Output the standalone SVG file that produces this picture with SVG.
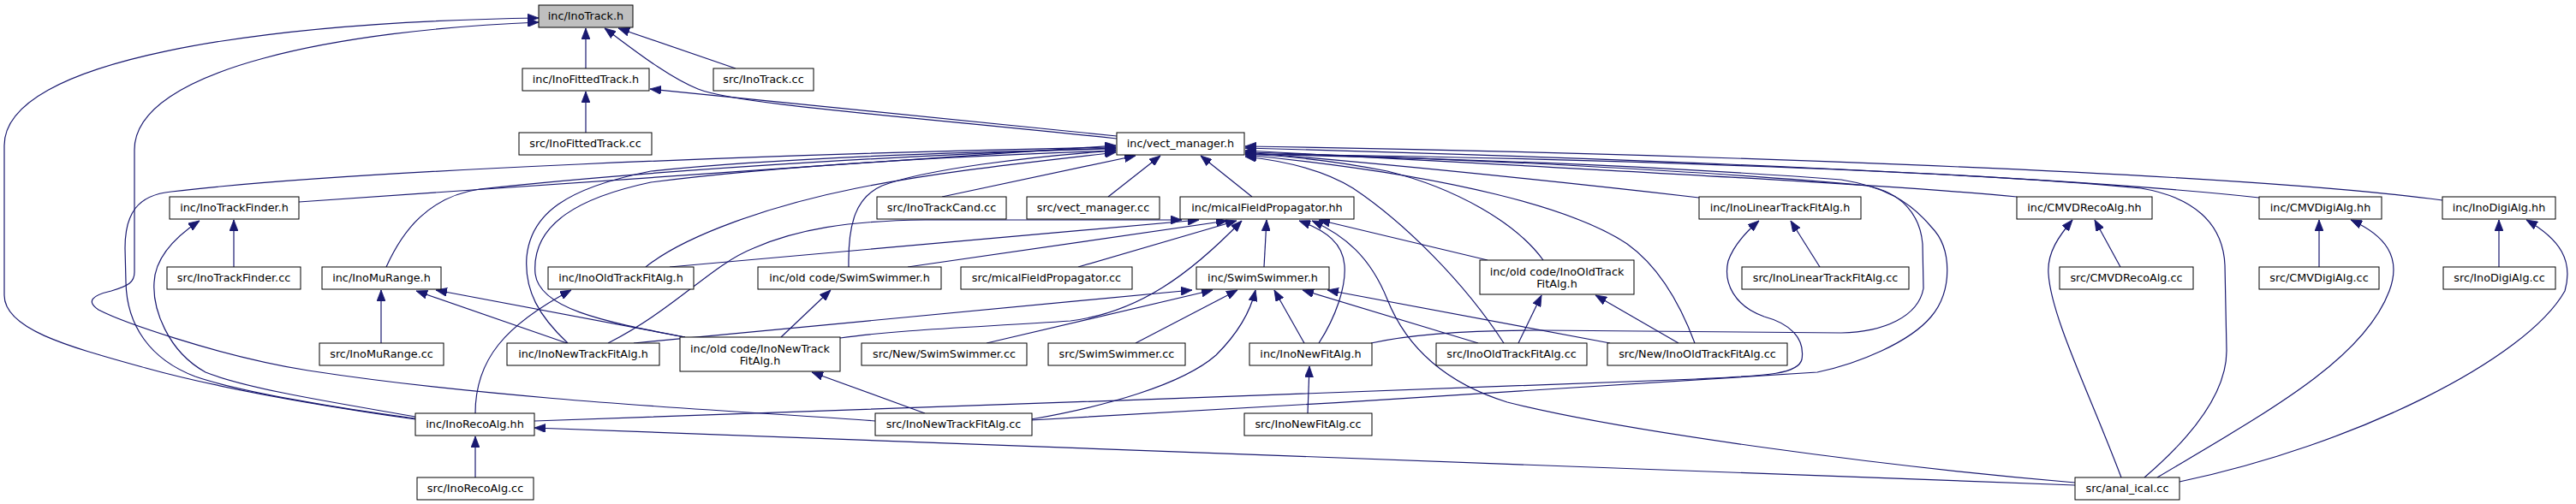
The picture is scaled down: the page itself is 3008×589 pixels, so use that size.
<svg xmlns="http://www.w3.org/2000/svg" width="3008" height="589" viewBox="0 0 3008 589">
<defs>
<style>
.node rect{fill:#ffffff;stroke:#000000;stroke-width:1}
.root rect{fill:#bfbfbf}
.node text{font-family:"DejaVu Sans","Liberation Sans",sans-serif;font-size:12.8px;text-anchor:middle;fill:#000000}
.edges path{fill:none;stroke:#191970;stroke-width:1.2;marker-end:url(#arr)}
</style>
<marker id="arr" viewBox="0 0 13 10" refX="13" refY="5" markerWidth="13" markerHeight="10" markerUnits="userSpaceOnUse" orient="auto">
<path d="M0,0 L13,5 L0,10 z" fill="#191970" stroke="#191970" stroke-width="0.8"/>
</marker>
</defs>
<rect width="3008" height="589" fill="#ffffff"/>
<g id="edges" class="edges">
<path d="M684,80 L684,33"/>
<path d="M859,80 L722,33"/>
<path d="M1304,162 C1050,135 860,122 815,104 C780,90 740,58 706,33"/>
<path d="M485,490 C380,475 260,455 170,430 C80,405 5,385 5,345 L5,170 C5,70 300,26 629,21"/>
<path d="M1022,492 C900,482 600,470 360,433 C250,415 140,375 115,362 C100,352 108,345 130,340 C150,334 157,330 157,318 L157,175 C157,80 400,35 629,26"/>
<path d="M1304,159 L759,104"/>
<path d="M684,155 L684,107"/>
<path d="M349,236 L1303,170"/>
<path d="M485,489 C400,478 280,458 228,440 C175,420 148,380 147,330 L146,290 C146,250 160,228 200,224 C400,200 900,180 1303,172"/>
<path d="M485,487 C400,472 290,455 240,435 C195,410 178,360 180,330 C181,305 200,280 233,258"/>
<path d="M273,312 L273,257"/>
<path d="M451,312 C470,270 500,230 560,221 C800,195 1100,180 1303,173"/>
<path d="M445,401 L445,339"/>
<path d="M754,312 C800,275 900,240 1000,220 C1100,200 1200,190 1303,178"/>
<path d="M782,312 L1400,257"/>
<path d="M555,483 C555,420 590,380 667,339"/>
<path d="M663,401 C630,370 612,340 615,300 C620,250 660,220 760,200 C900,185 1100,178 1303,174"/>
<path d="M800,394 C700,375 630,360 625,320 C620,260 680,230 760,213 C900,195 1100,183 1303,176"/>
<path d="M662,401 L486,340"/>
<path d="M800,394 L509,339"/>
<path d="M710,401 C790,360 830,310 880,290 C930,268 990,258 1080,257 L1380,257"/>
<path d="M740,401 L1392,339"/>
<path d="M912,394 L970,339"/>
<path d="M981,395 C1050,385 1150,382 1250,375 C1330,365 1390,320 1450,258"/>
<path d="M991,312 C990,260 1000,230 1030,217 C1080,198 1200,183 1303,176"/>
<path d="M1060,312 L1433,258"/>
<path d="M1259,312 L1444,258"/>
<path d="M1476,312 L1479,257"/>
<path d="M1540,401 C1560,370 1572,335 1570,310 C1568,285 1550,270 1517,258"/>
<path d="M2423,564 C2200,545 1900,505 1760,470 C1680,445 1640,400 1620,350 C1600,300 1570,275 1532,258"/>
<path d="M1737,304 L1540,257"/>
<path d="M1726,401 L1521,339"/>
<path d="M1880,401 L1550,339"/>
<path d="M1523,401 L1488,339"/>
<path d="M1326,401 L1445,339"/>
<path d="M1152,401 L1416,339"/>
<path d="M1204,490 C1290,475 1380,450 1420,415 C1445,390 1460,365 1466,339"/>
<path d="M1080,483 L948,435"/>
<path d="M1204,491 C1500,475 1900,450 2122,435 C2170,425 2230,400 2255,370 C2280,340 2280,290 2255,265 C2230,235 2200,218 2150,210 C1950,195 1700,185 1454,180"/>
<path d="M1601,401 C1650,390 1720,386 1800,386 L2150,389 C2200,388 2240,370 2246,337 L2245,285 C2242,250 2220,225 2180,217 C2000,200 1700,185 1454,178"/>
<path d="M624,492 C900,480 1600,460 1980,443 C2060,439 2100,438 2104,420 C2108,395 2090,378 2060,370 C2025,358 2012,330 2018,305 C2025,285 2040,270 2054,258"/>
<path d="M2125,312 L2091,258"/>
<path d="M1984,231 C1800,210 1600,190 1454,178"/>
<path d="M2355,230 C2200,215 1800,195 1454,176"/>
<path d="M2638,231 C2400,205 1900,185 1454,173"/>
<path d="M2852,234 C2600,200 1900,178 1454,171"/>
<path d="M2504,558 C2560,510 2600,460 2600,410 L2598,310 C2596,260 2560,230 2500,220 C2300,200 1800,183 1454,180"/>
<path d="M2477,558 C2440,460 2395,370 2392,320 C2390,295 2405,275 2420,257"/>
<path d="M2476,312 L2446,257"/>
<path d="M2519,558 C2650,480 2760,420 2790,340 C2805,300 2785,275 2745,257"/>
<path d="M2708,312 L2708,257"/>
<path d="M2545,563 C2750,520 2950,420 2995,340 C3005,305 2990,280 2950,257"/>
<path d="M2918,312 L2918,257"/>
<path d="M2423,567 L624,500"/>
<path d="M555,558 L555,510"/>
<path d="M1100,230 L1326,182"/>
<path d="M1294,230 L1355,182"/>
<path d="M1462,230 L1402,182"/>
<path d="M1756,401 C1710,330 1640,260 1580,220 C1545,198 1500,188 1454,183"/>
<path d="M1802,304 C1770,260 1700,220 1620,200 C1560,188 1500,182 1454,180"/>
<path d="M1979,401 C1960,350 1935,310 1900,285 C1840,245 1700,205 1454,181"/>
<path d="M1773,401 L1800,345"/>
<path d="M1960,401 L1863,345"/>
<path d="M1527,483 L1529,428"/>
</g>
<g id="n_InoTrack_h" class="node root"><rect x="629" y="6" width="110" height="26"/><text x="684" y="23">inc/InoTrack.h</text></g>
<g id="n_InoFittedTrack_h" class="node"><rect x="610" y="80" width="148" height="26"/><text x="684" y="97">inc/InoFittedTrack.h</text></g>
<g id="n_InoTrack_cc" class="node"><rect x="833" y="80" width="117" height="26"/><text x="891.5" y="97">src/InoTrack.cc</text></g>
<g id="n_InoFittedTrack_cc" class="node"><rect x="606" y="155" width="155" height="26"/><text x="683.5" y="172">src/InoFittedTrack.cc</text></g>
<g id="n_vect_manager_h" class="node"><rect x="1304" y="155" width="149" height="26"/><text x="1378.5" y="172">inc/vect_manager.h</text></g>
<g id="n_InoTrackFinder_h" class="node"><rect x="198" y="230" width="151" height="26"/><text x="273.5" y="247">inc/InoTrackFinder.h</text></g>
<g id="n_InoTrackCand_cc" class="node"><rect x="1024" y="230" width="151" height="26"/><text x="1099.5" y="247">src/InoTrackCand.cc</text></g>
<g id="n_vect_manager_cc" class="node"><rect x="1199" y="230" width="155" height="26"/><text x="1276.5" y="247">src/vect_manager.cc</text></g>
<g id="n_micalFieldPropagator_hh" class="node"><rect x="1378" y="230" width="203" height="26"/><text x="1479.5" y="247">inc/micalFieldPropagator.hh</text></g>
<g id="n_InoLinearTrackFitAlg_h" class="node"><rect x="1984" y="230" width="189" height="26"/><text x="2078.5" y="247">inc/InoLinearTrackFitAlg.h</text></g>
<g id="n_CMVDRecoAlg_hh" class="node"><rect x="2355" y="230" width="158" height="26"/><text x="2434" y="247">inc/CMVDRecoAlg.hh</text></g>
<g id="n_CMVDigiAlg_hh" class="node"><rect x="2638" y="230" width="143" height="26"/><text x="2709.5" y="247">inc/CMVDigiAlg.hh</text></g>
<g id="n_InoDigiAlg_hh" class="node"><rect x="2852" y="230" width="132" height="26"/><text x="2918" y="247">inc/InoDigiAlg.hh</text></g>
<g id="n_InoTrackFinder_cc" class="node"><rect x="195" y="312" width="156" height="26"/><text x="273" y="329">src/InoTrackFinder.cc</text></g>
<g id="n_InoMuRange_h" class="node"><rect x="376" y="312" width="139" height="26"/><text x="445.5" y="329">inc/InoMuRange.h</text></g>
<g id="n_InoOldTrackFitAlg_h" class="node"><rect x="640" y="312" width="170" height="26"/><text x="725" y="329">inc/InoOldTrackFitAlg.h</text></g>
<g id="n_old_SwimSwimmer_h" class="node"><rect x="885" y="312" width="214" height="26"/><text x="992" y="329">inc/old code/SwimSwimmer.h</text></g>
<g id="n_micalFieldPropagator_cc" class="node"><rect x="1122" y="312" width="200" height="26"/><text x="1222" y="329">src/micalFieldPropagator.cc</text></g>
<g id="n_SwimSwimmer_h" class="node"><rect x="1397" y="312" width="155" height="26"/><text x="1474.5" y="329">inc/SwimSwimmer.h</text></g>
<g id="n_old_InoOldTrackFitAlg_h" class="node"><rect x="1728" y="304" width="180" height="40"/><text x="1818" y="321.5">inc/old code/InoOldTrack</text><text x="1818" y="335.5">FitAlg.h</text></g>
<g id="n_InoLinearTrackFitAlg_cc" class="node"><rect x="2034" y="312" width="195" height="26"/><text x="2131.5" y="329">src/InoLinearTrackFitAlg.cc</text></g>
<g id="n_CMVDRecoAlg_cc" class="node"><rect x="2405" y="312" width="156" height="26"/><text x="2483" y="329">src/CMVDRecoAlg.cc</text></g>
<g id="n_CMVDigiAlg_cc" class="node"><rect x="2638" y="312" width="140" height="26"/><text x="2708" y="329">src/CMVDigiAlg.cc</text></g>
<g id="n_InoDigiAlg_cc" class="node"><rect x="2853" y="312" width="131" height="26"/><text x="2918.5" y="329">src/InoDigiAlg.cc</text></g>
<g id="n_InoMuRange_cc" class="node"><rect x="373" y="401" width="145" height="26"/><text x="445.5" y="418">src/InoMuRange.cc</text></g>
<g id="n_InoNewTrackFitAlg_h" class="node"><rect x="592" y="401" width="178" height="26"/><text x="681" y="418">inc/InoNewTrackFitAlg.h</text></g>
<g id="n_old_InoNewTrackFitAlg_h" class="node"><rect x="794" y="394" width="187" height="40"/><text x="887.5" y="411.5">inc/old code/InoNewTrack</text><text x="887.5" y="425.5">FitAlg.h</text></g>
<g id="n_New_SwimSwimmer_cc" class="node"><rect x="1006" y="401" width="193" height="26"/><text x="1102.5" y="418">src/New/SwimSwimmer.cc</text></g>
<g id="n_SwimSwimmer_cc" class="node"><rect x="1224" y="401" width="160" height="26"/><text x="1304" y="418">src/SwimSwimmer.cc</text></g>
<g id="n_InoNewFitAlg_h" class="node"><rect x="1459" y="401" width="143" height="26"/><text x="1530.5" y="418">inc/InoNewFitAlg.h</text></g>
<g id="n_InoOldTrackFitAlg_cc" class="node"><rect x="1677" y="401" width="176" height="26"/><text x="1765" y="418">src/InoOldTrackFitAlg.cc</text></g>
<g id="n_New_InoOldTrackFitAlg_cc" class="node"><rect x="1877" y="401" width="210" height="26"/><text x="1982" y="418">src/New/InoOldTrackFitAlg.cc</text></g>
<g id="n_InoRecoAlg_hh" class="node"><rect x="485" y="483" width="139" height="26"/><text x="554.5" y="500">inc/InoRecoAlg.hh</text></g>
<g id="n_InoNewTrackFitAlg_cc" class="node"><rect x="1022" y="483" width="183" height="26"/><text x="1113.5" y="500">src/InoNewTrackFitAlg.cc</text></g>
<g id="n_InoNewFitAlg_cc" class="node"><rect x="1453" y="483" width="149" height="26"/><text x="1527.5" y="500">src/InoNewFitAlg.cc</text></g>
<g id="n_InoRecoAlg_cc" class="node"><rect x="487" y="558" width="136" height="26"/><text x="555" y="575">src/InoRecoAlg.cc</text></g>
<g id="n_anal_ical_cc" class="node"><rect x="2423" y="558" width="122" height="26"/><text x="2484" y="575">src/anal_ical.cc</text></g>
</svg>
